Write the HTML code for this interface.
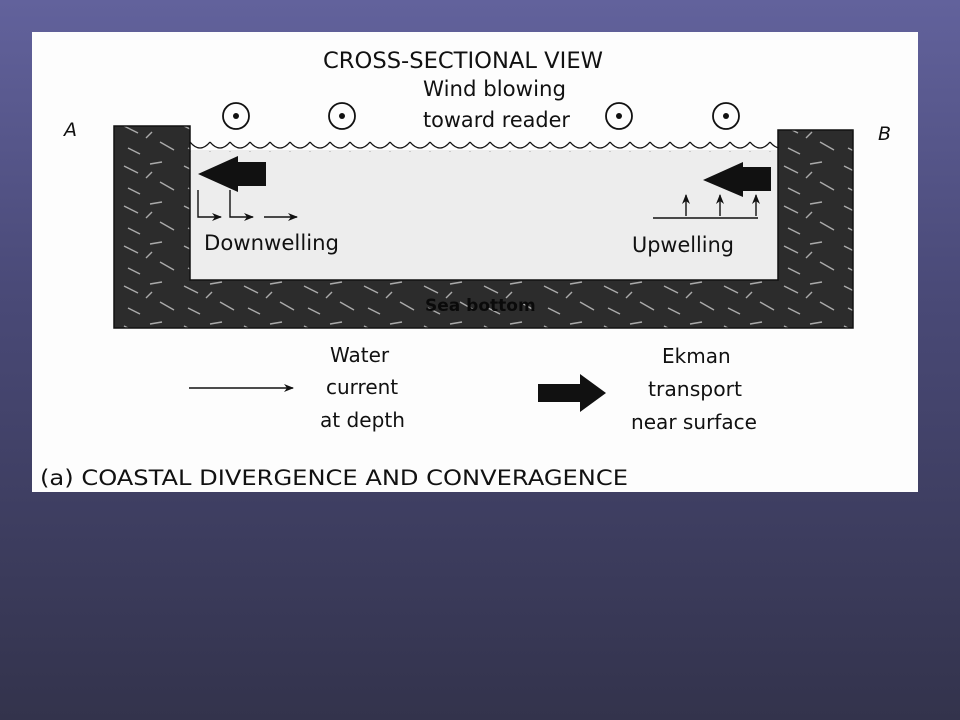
<!DOCTYPE html>
<html><head><meta charset="utf-8"><style>
html,body{margin:0;padding:0;}
body{width:960px;height:720px;background:linear-gradient(#62629c 0%,#4a4a78 40%,#33334c 100%);position:relative;overflow:hidden;font-family:"DejaVu Sans","Liberation Sans",sans-serif;}
svg{position:absolute;left:0;top:0;}
</style></head><body>
<svg width="960" height="720" viewBox="0 0 960 720">
<defs>
<pattern id="rock" width="60" height="40" patternUnits="userSpaceOnUse">
<rect width="60" height="40" fill="#2c2c2c"/>
<g stroke="#aaa" stroke-width="1.4">
<line x1="4" y1="6" x2="18" y2="13"/>
<line x1="30" y1="4" x2="42" y2="2"/>
<line x1="40" y1="22" x2="54" y2="30"/>
<line x1="8" y1="28" x2="20" y2="34"/>
<line x1="26" y1="18" x2="32" y2="12"/>
</g>
</pattern>
<pattern id="wave" width="20" height="10" patternUnits="userSpaceOnUse" x="190" y="140">
<path d="M0 2 Q10 14 20 2" fill="none" stroke="#111" stroke-width="1.3"/>
</pattern>
<marker id="ah" markerWidth="10" markerHeight="8" refX="9" refY="4" orient="auto" markerUnits="userSpaceOnUse"><path d="M0 0 L10 4 L0 8 L3 4Z" fill="#111"/></marker>
</defs>
<rect x="32" y="32" width="886" height="460" fill="#fdfdfd"/>
<rect x="190" y="150" width="588" height="130" fill="#ededed"/>
<rect x="190" y="140" width="588" height="12" fill="url(#wave)"/>
<path d="M114 126 H190 V280 H778 V130 H853 V328 H114 Z" fill="url(#rock)" stroke="#111" stroke-width="1.5"/>
<g fill="#111">
<text x="323" y="68" font-size="22" textLength="280" lengthAdjust="spacingAndGlyphs">CROSS-SECTIONAL VIEW</text>
<text x="423" y="96" font-size="21" textLength="143" lengthAdjust="spacingAndGlyphs">Wind blowing</text>
<text x="423" y="127" font-size="21" textLength="147" lengthAdjust="spacingAndGlyphs">toward reader</text>
<text x="64" y="136" font-size="19" font-style="italic">A</text>
<text x="878" y="140" font-size="19" font-style="italic">B</text>
<text x="204" y="250" font-size="21" textLength="135" lengthAdjust="spacingAndGlyphs">Downwelling</text>
<text x="632" y="252" font-size="21" textLength="102" lengthAdjust="spacingAndGlyphs">Upwelling</text>
<text x="425" y="311" font-size="17" font-weight="bold" fill="#0a0a0a">Sea bottom</text>
<text x="330" y="362" font-size="20">Water</text>
<text x="326" y="394" font-size="20">current</text>
<text x="320" y="427" font-size="20" textLength="85" lengthAdjust="spacingAndGlyphs">at depth</text>
<text x="662" y="363" font-size="20">Ekman</text>
<text x="648" y="396" font-size="20" textLength="94" lengthAdjust="spacingAndGlyphs">transport</text>
<text x="631" y="429" font-size="20" textLength="126" lengthAdjust="spacingAndGlyphs">near surface</text>
<text x="40" y="485" font-size="21" textLength="588" lengthAdjust="spacingAndGlyphs">(a) COASTAL DIVERGENCE AND CONVERAGENCE</text>
</g>
<g fill="none" stroke="#111" stroke-width="1.8">
<circle cx="236" cy="116" r="13"/><circle cx="342" cy="116" r="13"/>
<circle cx="619" cy="116" r="13"/><circle cx="726" cy="116" r="13"/>
</g>
<g fill="#111"><circle cx="236" cy="116" r="3"/><circle cx="342" cy="116" r="3"/><circle cx="619" cy="116" r="3"/><circle cx="726" cy="116" r="3"/></g>
<path d="M266 162 V186 H238 V192 L198 174 L238 156 V162Z" fill="#111"/>
<path d="M771 167 V191 H743 V197 L703 180 L743 162 V167Z" fill="#111"/>
<path d="M538 384 V402 H580 V412 L606 393 L580 374 V384Z" fill="#111"/>
<g fill="none" stroke="#111" stroke-width="1.4" marker-end="url(#ah)">
<path d="M198 190 V217 H221"/>
<path d="M230 190 V217 H253"/>
<path d="M264 217 H297"/>
<path d="M686 216 V195"/>
<path d="M720 216 V195"/>
<path d="M756 216 V195"/>
<path d="M189 388 H293"/>
</g>
<path d="M653 218 H758" fill="none" stroke="#111" stroke-width="1.4"/>
</svg>
</body></html>
